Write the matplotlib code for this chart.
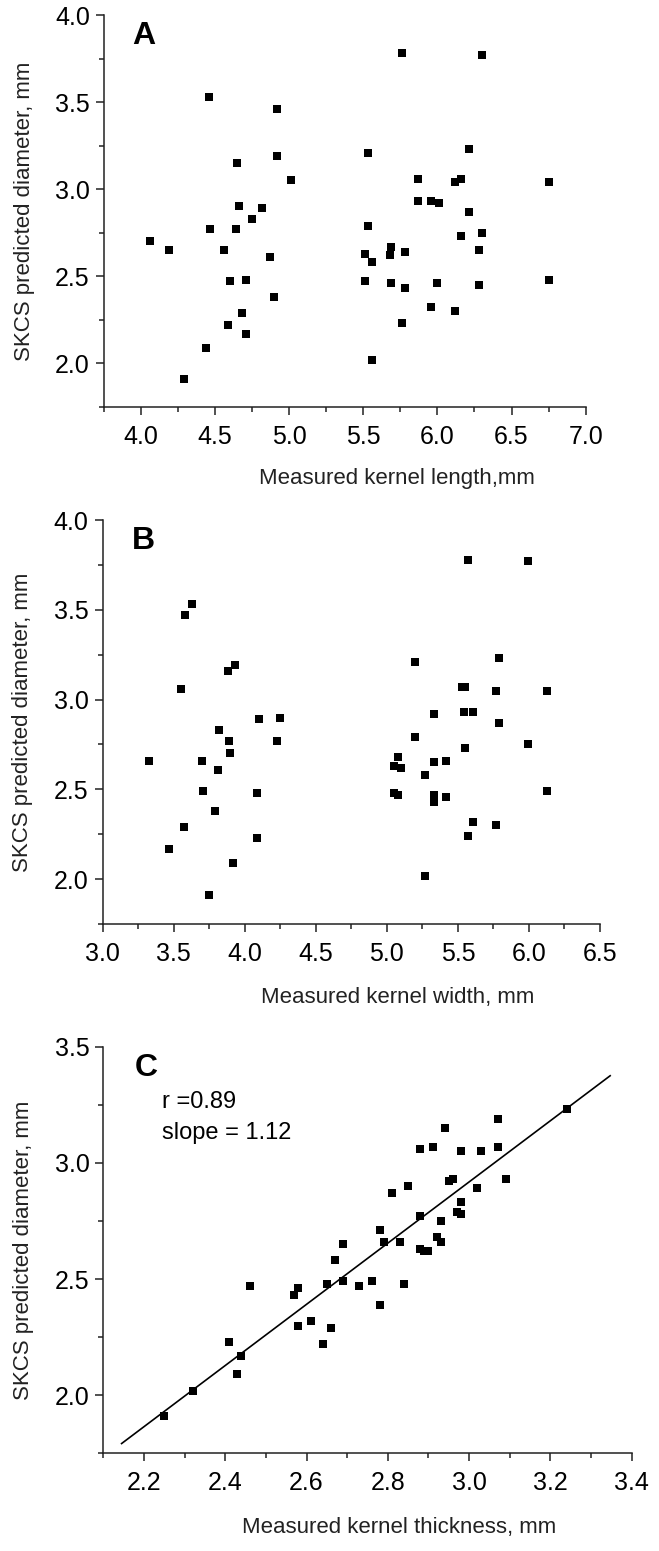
import numpy as np
import matplotlib
matplotlib.use('Agg')
import matplotlib.pyplot as plt
from matplotlib.ticker import MultipleLocator, FormatStrFormatter

# panel A: measured kernel length vs SKCS diameter
length_x = [4.06, 4.19, 4.29, 4.44, 4.46, 4.47, 4.56, 4.60, 4.59, 4.64, 4.65, 4.66, 4.68,
            4.71, 4.71, 4.75, 4.82, 4.87, 4.90, 4.92, 4.92, 5.01, 5.76, 6.30, 5.53, 6.21,
            5.87, 6.12, 6.16, 6.75, 5.87, 5.96, 6.01, 6.21, 5.53, 6.16, 6.30, 5.69, 5.51,
            5.68, 5.78, 5.56, 6.28, 5.51, 5.69, 5.78, 6.00, 6.28, 6.75, 5.96, 6.12, 5.76, 5.56]
length_y = [2.70, 2.65, 1.91, 2.09, 3.53, 2.77, 2.65, 2.47, 2.22, 2.77, 3.15, 2.90, 2.29,
            2.17, 2.48, 2.83, 2.89, 2.61, 2.38, 3.46, 3.19, 3.05, 3.78, 3.77, 3.21, 3.23,
            3.06, 3.04, 3.06, 3.04, 2.93, 2.93, 2.92, 2.87, 2.79, 2.73, 2.75, 2.67, 2.63,
            2.62, 2.64, 2.58, 2.65, 2.47, 2.46, 2.43, 2.46, 2.45, 2.48, 2.32, 2.30, 2.23, 2.02]

# panel B: measured kernel width
width_x = [3.33, 3.47, 3.55, 3.57, 3.58, 3.63, 3.70, 3.71, 3.75, 3.79, 3.81, 3.82, 3.88,
           3.93, 3.89, 3.90, 3.92, 4.09, 4.09, 4.10, 4.23, 4.25, 5.57, 5.99, 5.20, 5.79,
           5.53, 5.55, 5.77, 6.13, 5.33, 5.54, 5.61, 5.79, 5.20, 5.55, 5.99, 5.08, 5.05,
           5.10, 5.33, 5.42, 5.27, 5.05, 5.08, 5.33, 5.33, 5.42, 6.13, 5.61, 5.77, 5.57, 5.27]
width_y = [2.66, 2.17, 3.06, 2.29, 3.47, 3.53, 2.66, 2.49, 1.91, 2.38, 2.61, 2.83, 3.16,
           3.19, 2.77, 2.70, 2.09, 2.48, 2.23, 2.89, 2.77, 2.90, 3.78, 3.77, 3.21, 3.23,
           3.07, 3.07, 3.05, 3.05, 2.92, 2.93, 2.93, 2.87, 2.79, 2.73, 2.75, 2.68, 2.63,
           2.62, 2.65, 2.66, 2.58, 2.48, 2.47, 2.47, 2.43, 2.46, 2.49, 2.32, 2.30, 2.24, 2.02]

# panel C: measured kernel thickness
thick_x = [2.25, 2.32, 2.41, 2.43, 2.44, 2.46, 2.57, 2.58, 2.58, 2.61, 2.64, 2.66, 2.65,
           2.67, 2.69, 2.69, 2.73, 2.76, 2.78, 2.78, 2.79, 2.83, 2.84, 2.81, 2.85, 2.88,
           2.91, 2.94, 2.88, 2.88, 2.89, 2.90, 2.92, 2.93, 2.93, 2.95, 2.96, 2.97, 2.98,
           2.98, 2.98, 3.02, 3.03, 3.07, 3.07, 3.09, 3.24]
thick_y = [1.91, 2.02, 2.23, 2.09, 2.17, 2.47, 2.43, 2.46, 2.30, 2.32, 2.22, 2.29, 2.48,
           2.58, 2.65, 2.49, 2.47, 2.49, 2.39, 2.71, 2.66, 2.66, 2.48, 2.87, 2.90, 3.06,
           3.07, 3.15, 2.77, 2.63, 2.62, 2.62, 2.68, 2.66, 2.75, 2.92, 2.93, 2.79, 2.78,
           2.83, 3.05, 2.89, 3.05, 3.07, 3.19, 2.93, 3.23]

# regression line (end points)
fit_x = [2.145, 3.347]
fit_y = [1.792, 3.375]

plt.rcParams['font.family'] = ['Liberation Sans', 'DejaVu Sans']

W, H = 659, 1551
fig = plt.figure(figsize=(W / 100, H / 100), dpi=100)


def make_axes(left, top, right, bottom):
    # pixel box -> figure fraction
    return fig.add_axes([left / W, (H - bottom) / H, (right - left) / W, (bottom - top) / H])


def style(ax, xlim, ylim, xmaj, xmin, xlabel, label_x, letter):
    ax.set_xlim(*xlim)
    ax.set_ylim(*ylim)
    ax.spines['top'].set_visible(False)
    ax.spines['right'].set_visible(False)
    for s in ['left', 'bottom']:
        ax.spines[s].set_linewidth(1.1)
        ax.spines[s].set_color('#222222')
    ax.xaxis.set_major_locator(MultipleLocator(xmaj))
    ax.xaxis.set_minor_locator(MultipleLocator(xmin))
    ax.yaxis.set_major_locator(MultipleLocator(0.5))
    ax.yaxis.set_minor_locator(MultipleLocator(0.25))
    ax.xaxis.set_major_formatter(FormatStrFormatter('%.1f'))
    ax.yaxis.set_major_formatter(FormatStrFormatter('%.1f'))
    ax.tick_params(which='major', direction='out', length=6, width=1.1, labelsize=18,
                   pad=4, color='#222222')
    ax.tick_params(which='minor', direction='out', length=3.5, width=1.1, color='#222222')
    ax.tick_params(axis='x', which='major', pad=7)
    ax.set_ylabel('SKCS predicted diameter, mm', fontsize=16, color='#222222')
    ax.yaxis.set_label_coords(-69 / (ax.get_position().width * W), 0.5)
    ax.set_xlabel(xlabel, fontsize=16, color='#222222')
    ax.xaxis.set_label_coords(label_x, -0.157)
    ax.text(0.06, 0.985, letter, transform=ax.transAxes, fontsize=23,
            fontweight='bold', va='top', ha='left')


# A
ax1 = make_axes(103.7, 15, 585.7, 406.7)
ax1.scatter(length_x, length_y, marker='s', s=30, color='black', linewidths=0)
style(ax1, (3.75, 7.0), (1.75, 4.0), 0.5, 0.25, 'Measured kernel length,mm', 0.608, 'A')

# B
ax2 = make_axes(102.5, 520, 600, 924)
ax2.scatter(width_x, width_y, marker='s', s=30, color='black', linewidths=0)
style(ax2, (3.0, 6.5), (1.75, 4.0), 0.5, 0.25, 'Measured kernel width, mm', 0.594, 'B')

# C
ax3 = make_axes(103.3, 1046.7, 631.7, 1453.3)
ax3.scatter(thick_x, thick_y, marker='s', s=30, color='black', linewidths=0)
ax3.plot(fit_x, fit_y, color='black', lw=1.2)
style(ax3, (2.1, 3.4), (1.75, 3.5), 0.2, 0.1, 'Measured kernel thickness, mm', 0.56, 'C')
ax3.text(2.245, 3.26, 'r =0.89', fontsize=17, va='center', ha='left')
ax3.text(2.245, 3.13, 'slope = 1.12', fontsize=17, va='center', ha='left')

fig.savefig('out.png', dpi=100)
